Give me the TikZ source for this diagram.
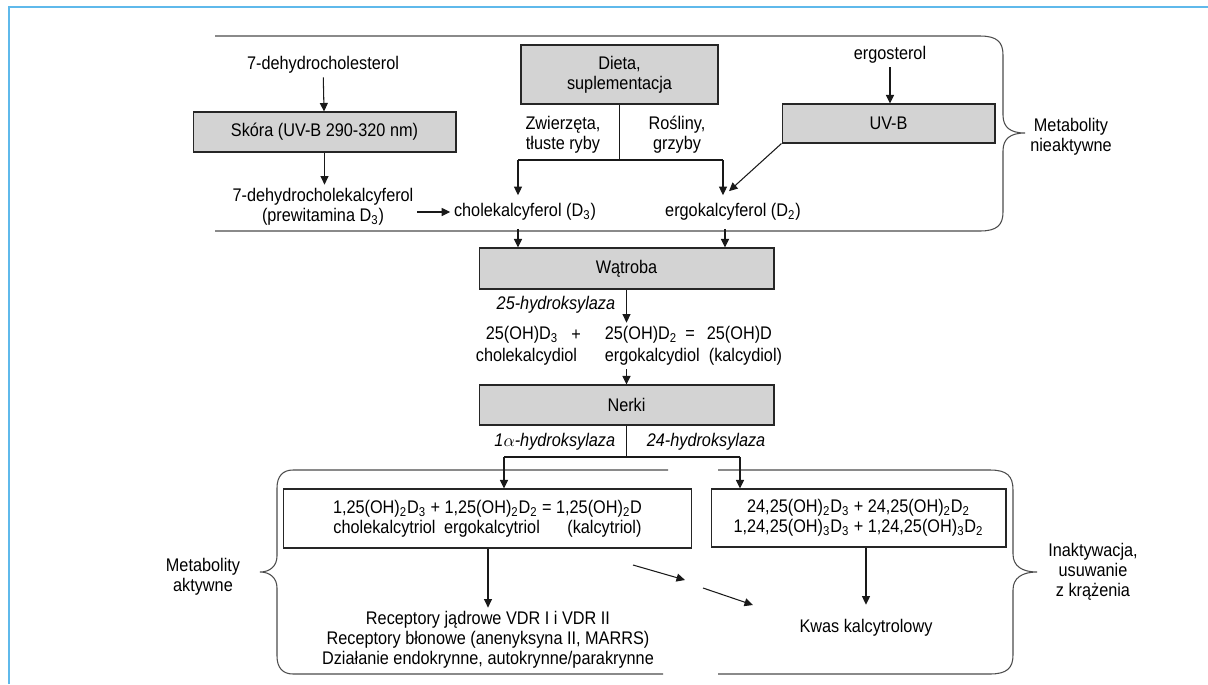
\documentclass[tikz,border=0pt]{standalone}
\usepackage{fontspec}
\setmainfont{Liberation Sans}[FakeStretch=0.89]
\usetikzlibrary{arrows.meta, calc}

\definecolor{framecol}{RGB}{95,185,235}
\definecolor{boxgray}{RGB}{211,211,211}

\tikzset{
	organ/.style={draw=black!85, fill=boxgray, line width=0.6pt, inner sep=0pt},
	formula/.style={draw=black!85, line width=0.6pt, align=center, inner sep=0pt},
	txt/.style={align=center, inner sep=2pt},
	enzyme/.style={inner sep=2pt, font=\fontsize{10.4}{11.4}\selectfont\itshape},
	arr/.style={-{Triangle[length=0.17cm, width=0.16cm]}, line width=0.6pt, draw=black!90},
	link/.style={line width=0.6pt, draw=black!90},
	bracket/.style={line width=0.6pt, draw=black!70},
}

\begin{document}
\begin{tikzpicture}[x=0.02cm, y=-0.02cm, font=\fontsize{10.4}{11.4}\selectfont]
	\useasboundingbox (0,0) rectangle (1208,684);
	\draw[framecol, line width=1.2pt] (9,684) -- (9,7) -- (1208,7);

	% metabolity nieaktywne
	\draw[bracket] (215,36) -- (980,36) .. controls (997,36) and (1003,42) .. (1003,55) -- (1003,115)
		.. controls (1003,127) and (1010,133) .. (1025,133) .. controls (1010,133) and (1003,139) .. (1003,151)
		-- (1003,212) .. controls (1003,225) and (997,231) .. (980,231) -- (215,231);
	\node [txt] (nieakt) at (1071,137) {Metabolity\\nieaktywne};

	\node [txt] (dchol) at (323,65) {7-dehydrocholesterol};
	\node [organ, minimum width=5.26cm, minimum height=0.8cm] (skora) at (324.5,132) {Skóra (UV-B 290-320 nm)};
	\node [txt] (dkal) at (323,207) {7-dehydrocholekalcyferol\\(prewitamina D\textsubscript{3})};

	\node [organ, align=center, minimum width=3.94cm, minimum height=1.18cm] (dieta) at (619.5,74.5) {Dieta,\\suplementacja};
	\node [txt] (zwierz) at (563,135) {Zwierzęta,\\tłuste ryby};
	\node [txt] (rosl) at (677,135) {Rośliny,\\grzyby};

	\node [txt] (ergst) at (890,55) {ergosterol};
	\node [organ, minimum width=4.26cm, minimum height=0.78cm] (uvb) at (888.5,123.5) {UV-B};

	\node [txt, minimum height=0.66cm] (chol) at (525,212) {cholekalcyferol (D\textsubscript{3})};
	\node [txt, minimum height=0.66cm] (ergo) at (733,212) {ergokalcyferol (D\textsubscript{2})};

	\coordinate (split) at (619.5,160);
	\coordinate (dl) at (518,160);
	\coordinate (dr) at (723,160);

	\draw[arr] (dchol) -- (skora);
	\draw[arr] (skora) -- (skora |- dkal.north);
	\draw[arr] (dkal.east |- chol) -- (chol);
	\draw[link] (dieta) -- (split);
	\draw[link] (dl) -- (dr);
	\draw[arr] (dl) -- (dl |- chol.north);
	\draw[arr] (dr) -- (dr |- ergo.north);
	\draw[arr] (ergst) -- (ergst |- uvb.north);
	\draw[arr] (uvb.south west) -- ($(ergo.north)+(-4,-4)$);

	% watroba
	\node [organ, minimum width=5.9cm, minimum height=0.82cm] (wat) at (626.5,268.5) {Wątroba};
	\draw[arr] (chol.south -| dl) -- (dl |- wat.north);
	\draw[arr] (ergo.south -| 725,0) -- (725,0 |- wat.north);
	\node [enzyme, anchor=east] (hyd25) at (619,305) {25-hydroksylaza};

	\node [txt, anchor=west] (c1) at (482,335) {25(OH)D\textsubscript{3}};
	\node [txt] (plus) at (576,335) {+};
	\node [txt, anchor=west] (c2) at (601,335) {25(OH)D\textsubscript{2}};
	\node [txt] (eq) at (690,335) {=};
	\node [txt, anchor=west] (c3) at (703,335) {25(OH)D};
	\node [txt, anchor=west] (n1) at (472,357) {cholekalcydiol};
	\node [txt, anchor=west] (n2) at (601,357) {ergokalcydiol};
	\node [txt, anchor=west] (n3) at (705,357) {(kalcydiol)};
	\draw[arr] (wat) -- (wat |- c2.north);

	% nerki
	\node [organ, minimum width=5.9cm, minimum height=0.8cm] (nerki) at (626.5,405) {Nerki};
	\draw[arr] (n2.south -| nerki) -- (nerki);

	\coordinate (ns) at (626.5,457);
	\coordinate (hl) at (504,457);
	\coordinate (hr) at (740,457);
	\draw[link] (nerki) -- (ns);
	\draw[link] (hl) -- (hr);
	\node [enzyme, anchor=east] (hyd1) at (619,442) {1$\alpha$-hydroksylaza};
	\node [enzyme, anchor=west] (hyd24) at (643,442) {24-hydroksylaza};

	% metabolity aktywne
	\draw[bracket] (668,470) -- (293,470) .. controls (283,470) and (277,476) .. (277,488) -- (277,556)
		.. controls (277,566) and (270,572) .. (260,572) .. controls (270,572) and (277,578) .. (277,588)
		-- (277,656) .. controls (277,668) and (283,674) .. (293,674) -- (663,674);
	\node [txt] (akt) at (203,577) {Metabolity\\aktywne};

	% inaktywacja
	\draw[bracket] (718,470) -- (990,470) .. controls (1007,470) and (1013,476) .. (1013,490) -- (1013,554)
		.. controls (1013,566) and (1022,572) .. (1037,572) .. controls (1022,572) and (1013,578) .. (1013,590)
		-- (1013,655) .. controls (1013,668) and (1007,674) .. (990,674) -- (718,674);
	\node [txt] (inakt) at (1093,572) {Inaktywacja,\\usuwanie\\z krążenia};

	\node [formula, minimum width=8.18cm, minimum height=1.18cm] (box1) at (487.5,518.5)
		{1,25(OH)\textsubscript{2}D\textsubscript{3} + 1,25(OH)\textsubscript{2}D\textsubscript{2} = 1,25(OH)\textsubscript{2}D\\
		cholekalcytriol\hspace{0.17cm}ergokalcytriol\hspace{0.55cm}(kalcytriol)};
	\node [formula, minimum width=5.9cm, minimum height=1.16cm] (box2) at (858.5,518)
		{24,25(OH)\textsubscript{2}D\textsubscript{3} + 24,25(OH)\textsubscript{2}D\textsubscript{2}\\
		1,24,25(OH)\textsubscript{3}D\textsubscript{3} + 1,24,25(OH)\textsubscript{3}D\textsubscript{2}};
	\draw[arr] (hl) -- (hl |- box1.north);
	\draw[arr] (hr) -- (hr |- box2.north);

	\node [txt] (rec) at (488,640) {Receptory jądrowe VDR I i VDR II\\Receptory błonowe (anenyksyna II, MARRS)\\Działanie endokrynne, autokrynne/parakrynne};
	\node [txt, minimum height=0.92cm] (kwas) at (866,628) {Kwas kalcytrolowy};
	\draw[arr] (box1.south -| rec) -- (rec);
	\draw[arr] (box2.south -| kwas) -- (kwas);

	\coordinate (da1) at (633,565);
	\coordinate (db1) at (685,580);
	\coordinate (da2) at (703,588);
	\coordinate (db2) at (753,605);
	\draw[arr] (da1) -- (db1);
	\draw[arr] (da2) -- (db2);
\end{tikzpicture}
\end{document}
